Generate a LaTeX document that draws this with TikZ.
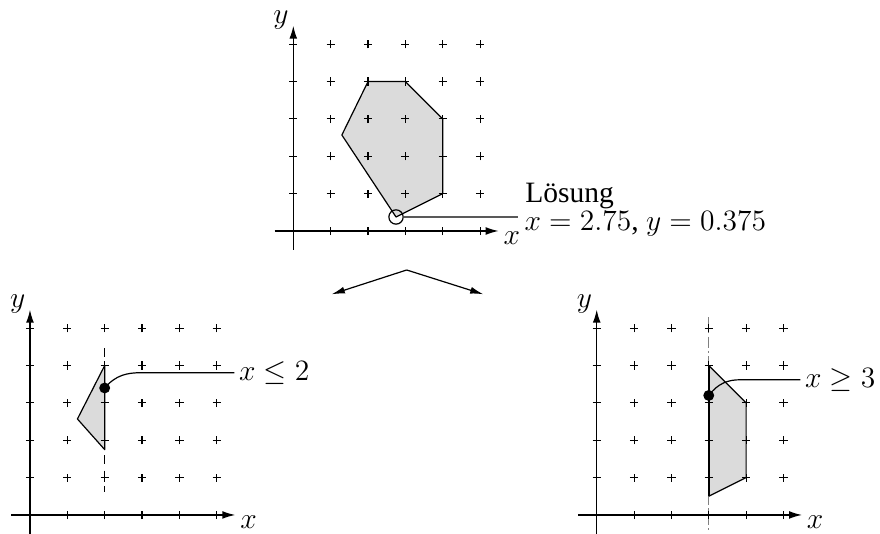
\RequirePackage{fix-cm}
\documentclass[tikz,border=0pt]{standalone}
\usepackage{fontspec}
\setmainfont{Liberation Serif}
\usetikzlibrary{arrows.meta}
\tikzset{
  x=0.6cm, y=0.6cm,
  every node/.style={font=\fontsize{13.5}{16}\selectfont},
  axisline/.style={line width=0.7pt, -{Latex[length=6pt,width=3.6pt]}},
  crossmark/.style={line width=0.5pt},
  dotmark/.style={circle, fill=black, inner sep=0pt, minimum size=5pt},
  leader/.style={line width=0.55pt},
  cutdash/.style={dashed, dash pattern=on 4pt off 3pt, line width=0.55pt},
  cutdashdot/.style={gray, line width=0.55pt, dash pattern=on 5pt off 1.5pt on 1pt off 1.5pt},
  branch/.style={line width=0.55pt, -{Latex[length=6pt,width=3.2pt]}},
  axlabel/.style={inner sep=0pt},
  edge/.style={line width=0.55pt, line join=round},
}
\newcommand{\gridcrosses}{%
  \foreach \i in {0,...,5}{\foreach \j in {0,...,5}{%
    \draw[crossmark] (\i-0.11,\j) -- (\i+0.11,\j) (\i,\j-0.11) -- (\i,\j+0.11);}}}
\newcommand{\axesxy}{%
  \draw[axisline] (-0.5,0) -- (5.5,0);
  \draw[axisline] (0,-0.5) -- (0,5.5);
  \node[axlabel] (ylab) at (-0.33,5.66) {$y$};
  \node[axlabel] (xlab) at (5.85,-0.2) {$x$};}
\begin{document}
\begin{tikzpicture}
\useasboundingbox (0,0) rectangle (23.561,14.297);

% ---------- top diagram ----------
\begin{scope}[shift={(7.853,8.112)}]
  \fill[black!14] (1.3,2.57) -- (2,4) -- (3,4) -- (4,3) -- (4,1) -- (2.75,0.375) -- cycle;
  \gridcrosses
  \draw[edge] (1.3,2.57) -- (2,4) -- (3,4) -- (4,3) -- (4,1) -- (2.75,0.375) -- cycle;
  \axesxy
  \node[draw, circle, inner sep=0pt, minimum size=0.23cm, line width=0.55pt] (sol) at (2.75,0.375) {};
  \coordinate (solend) at (6.02,0.375);
  \draw[leader, black!65] (sol.east) -- (solend);
  \node[anchor=base west, inner sep=0pt] (loes) at (6.2,0.76) {Lösung};
  \node[anchor=base west, inner sep=0pt] (solval) at (6.18,0.0) {$x=2.75$, $y=0.375$};
\end{scope}

% ---------- branching arrows ----------
\coordinate (apex) at (10.889,7.068);
\coordinate (tipL) at (8.881,6.418);
\coordinate (tipR) at (12.94,6.418);
\draw[branch] (apex) -- (tipL);
\draw[branch] (apex) -- (tipR);

% ---------- bottom left ----------
\begin{scope}[shift={(0.803,0.509)}]
  \draw[cutdash] (2,4.47) -- (2,0.62);
  \fill[black!14] (1.27,2.57) -- (2,4) -- (2,1.75) -- cycle;
  \gridcrosses
  \draw[edge] (1.27,2.57) -- (2,4) -- (2,1.75) -- cycle;
  \axesxy
  \node[dotmark] (dL) at (2,3.4) {};
  \node[anchor=west, inner sep=2pt] (lL) at (5.47,3.81) {$x\leq 2$};
  \draw[leader] (dL.center) .. controls (2.3,3.75) and (2.6,3.81) .. (3,3.81) -- (lL.west);
\end{scope}

% ---------- bottom right ----------
\begin{scope}[shift={(15.976,0.509)}]
  \draw[cutdashdot] (3,5.3) -- (3,-0.45);
  \fill[black!14] (3,4) -- (4,3) -- (4,1) -- (3,0.5) -- cycle;
  \gridcrosses
  \draw[edge] (3,4) -- (4,3) -- (4,1) -- (3,0.5);
  \draw[line width=1.1pt] (3,4) -- (3,0.5);
  \axesxy
  \node[dotmark] (dR) at (3,3.2) {};
  \node[anchor=west, inner sep=2pt] (lR) at (5.45,3.62) {$x\geq 3$};
  \draw[leader] (dR.center) .. controls (3.25,3.52) and (3.5,3.62) .. (3.84,3.62) -- (lR.west);
\end{scope}
\end{tikzpicture}
\end{document}
